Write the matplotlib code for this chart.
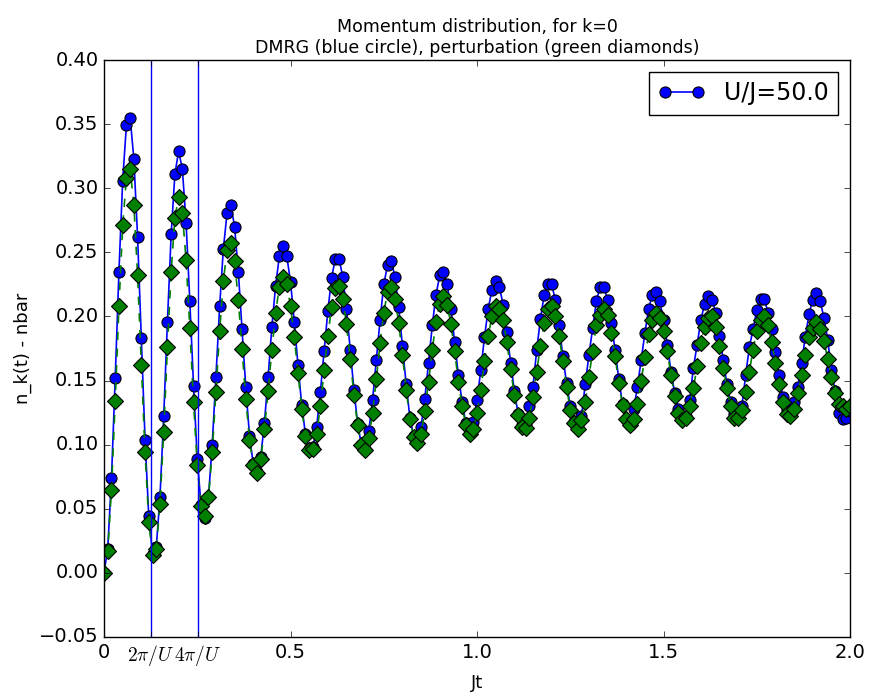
"""
Momentum distribution n_k(t) - nbar at k=0 after a quench to U/J = 50.
DMRG result (blue circles) against the perturbative estimate (green diamonds).
"""

import numpy as np
import matplotlib
matplotlib.use("Agg")
import matplotlib.pyplot as plt

plt.style.use("classic")
plt.rcParams["mathtext.fontset"] = "cm"

U = 50.0
DT = 0.01

# n_k(t) - nbar, one value every DT in Jt
dmrg = [
    0.000, 0.019, 0.074, 0.152, 0.235, 0.306, 0.349, 0.355, 0.323, 0.262,
    0.183, 0.104, 0.044, 0.015, 0.020, 0.059, 0.122, 0.196, 0.264, 0.311,
    0.329, 0.315, 0.273, 0.212, 0.146, 0.089, 0.053, 0.043, 0.059, 0.100,
    0.153, 0.208, 0.253, 0.281, 0.287, 0.270, 0.235, 0.190, 0.145, 0.107,
    0.085, 0.079, 0.090, 0.117, 0.153, 0.192, 0.224, 0.247, 0.255, 0.247,
    0.227, 0.196, 0.162, 0.131, 0.108, 0.097, 0.098, 0.114, 0.141, 0.173,
    0.204, 0.230, 0.245, 0.245, 0.231, 0.206, 0.174, 0.143, 0.116, 0.100,
    0.097, 0.111, 0.135, 0.166, 0.197, 0.225, 0.240, 0.243, 0.231, 0.207,
    0.177, 0.147, 0.121, 0.107, 0.101, 0.114, 0.136, 0.164, 0.193, 0.217,
    0.232, 0.235, 0.225, 0.206, 0.180, 0.154, 0.133, 0.117, 0.108, 0.118,
    0.135, 0.158, 0.184, 0.206, 0.221, 0.228, 0.223, 0.209, 0.188, 0.164,
    0.142, 0.124, 0.115, 0.115, 0.130, 0.145, 0.174, 0.198, 0.217, 0.225,
    0.225, 0.213, 0.193, 0.169, 0.148, 0.130, 0.118, 0.113, 0.122, 0.147,
    0.170, 0.191, 0.212, 0.223, 0.223, 0.213, 0.195, 0.174, 0.151, 0.132,
    0.120, 0.115, 0.128, 0.145, 0.166, 0.187, 0.206, 0.217, 0.219, 0.212,
    0.197, 0.178, 0.157, 0.140, 0.128, 0.121, 0.122, 0.135, 0.160, 0.178,
    0.197, 0.210, 0.216, 0.213, 0.203, 0.185, 0.166, 0.147, 0.133, 0.124,
    0.122, 0.130, 0.154, 0.176, 0.190, 0.205, 0.214, 0.214, 0.203, 0.190,
    0.172, 0.154, 0.137, 0.127, 0.124, 0.133, 0.145, 0.164, 0.184, 0.202,
    0.213, 0.218, 0.212, 0.199, 0.182, 0.158, 0.142, 0.125, 0.120, 0.121,
    0.126,
]

perturbation = [
    0.000, 0.017, 0.065, 0.134, 0.208, 0.271, 0.308, 0.315, 0.287, 0.232,
    0.162, 0.094, 0.040, 0.014, 0.019, 0.054, 0.110, 0.176, 0.235, 0.277,
    0.293, 0.281, 0.244, 0.191, 0.133, 0.084, 0.052, 0.044, 0.059, 0.094,
    0.141, 0.189, 0.228, 0.252, 0.257, 0.243, 0.213, 0.175, 0.136, 0.104,
    0.084, 0.078, 0.089, 0.112, 0.142, 0.174, 0.203, 0.223, 0.231, 0.225,
    0.208, 0.184, 0.156, 0.128, 0.107, 0.096, 0.097, 0.108, 0.130, 0.158,
    0.185, 0.207, 0.222, 0.224, 0.214, 0.194, 0.167, 0.139, 0.115, 0.100,
    0.096, 0.105, 0.125, 0.151, 0.179, 0.203, 0.219, 0.223, 0.214, 0.195,
    0.170, 0.143, 0.120, 0.106, 0.101, 0.108, 0.126, 0.149, 0.174, 0.196,
    0.210, 0.216, 0.209, 0.194, 0.173, 0.149, 0.130, 0.115, 0.108, 0.112,
    0.125, 0.143, 0.165, 0.185, 0.200, 0.208, 0.206, 0.197, 0.180, 0.159,
    0.139, 0.123, 0.114, 0.113, 0.121, 0.137, 0.157, 0.177, 0.195, 0.206,
    0.208, 0.200, 0.185, 0.165, 0.145, 0.127, 0.117, 0.112, 0.119, 0.133,
    0.153, 0.173, 0.193, 0.201, 0.206, 0.201, 0.187, 0.169, 0.148, 0.131,
    0.120, 0.115, 0.120, 0.132, 0.150, 0.168, 0.186, 0.197, 0.203, 0.199,
    0.189, 0.173, 0.154, 0.138, 0.125, 0.119, 0.121, 0.130, 0.144, 0.161,
    0.179, 0.192, 0.199, 0.200, 0.192, 0.177, 0.160, 0.144, 0.130, 0.121,
    0.121, 0.127, 0.141, 0.157, 0.174, 0.189, 0.197, 0.200, 0.193, 0.180,
    0.164, 0.147, 0.133, 0.124, 0.122, 0.128, 0.140, 0.154, 0.170, 0.184,
    0.191, 0.196, 0.190, 0.181, 0.167, 0.153, 0.140, 0.132, 0.130, 0.128,
    0.130,
]

jt = np.round(np.arange(len(dmrg)) * DT, 2)

xtick_pos = [0.0, 2 * np.pi / U, 4 * np.pi / U, 0.5, 1.0, 1.5, 2.0]
xtick_labels = ["0", r"$2\pi/U$", r"$4\pi/U$", "0.5", "1.0", "1.5", "2.0"]
yticks = np.arange(-0.05, 0.401, 0.05)


fig = plt.figure(figsize=(8.69, 6.98), dpi=100, facecolor="white")
ax = fig.add_axes([0.1197, 0.0874, 0.8585, 0.8266])

ax.plot(jt, dmrg, "b-o", lw=1.2, ms=8, mec="k", mew=0.8,
        label="U/J=%.1f" % U)
ax.plot(jt, perturbation, "g--D", lw=1.2, ms=8.5, mec="k", mew=0.8)

# one and two periods of the interaction scale
ax.axvline(2 * np.pi / U, color="b", lw=1)
ax.axvline(4 * np.pi / U, color="b", lw=1)

ax.set_xlim(0, 2.0)
ax.set_ylim(-0.05, 0.40)
ax.set_xticks(xtick_pos)
ax.set_xticklabels(xtick_labels)
ax.set_yticks(yticks)
ax.set_yticklabels([("%.2f" % v).replace("-", "\u2212") for v in yticks])
ax.tick_params(labelsize=14)

ax.set_xlabel("Jt", fontsize=13)
ax.set_ylabel("n_k(t) - nbar", fontsize=13)
ax.set_title("Momentum distribution, for k=0\n"
             "DMRG (blue circle), perturbation (green diamonds)",
             fontsize=12.5)

ax.legend(loc="upper right", numpoints=2, fontsize=17)

fig.savefig("out.png", dpi=100, facecolor="white")
